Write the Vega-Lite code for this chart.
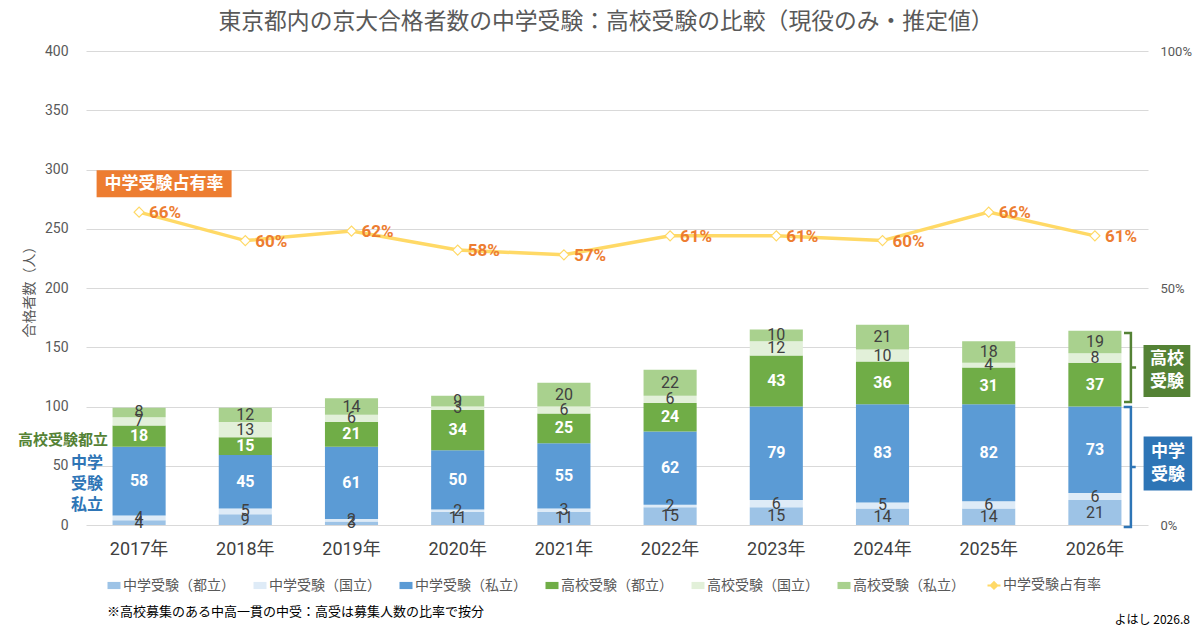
{
  "$schema": "https://vega.github.io/schema/vega-lite/v6.json",
  "width": 1062,
  "height": 474,
  "autosize": {"type": "none"},
  "padding": {"left": 86, "top": 51, "right": 52, "bottom": 106},
  "background": "#ffffff",
  "config": {
    "font": "Roboto, Noto Sans CJK JP",
    "view": {"stroke": null},
    "axis": {"labelFont": "Roboto, Noto Sans CJK JP", "titleFont": "Noto Sans CJK JP"}
  },
  "title": {
    "text": "東京都内の京大合格者数の中学受験：高校受験の比較（現役のみ・推定値）",
    "font": "Noto Sans CJK JP",
    "fontSize": 22.8,
    "fontWeight": "normal",
    "color": "#595959",
    "anchor": "middle",
    "dx": -11,
    "offset": 10
  },
  "datasets": {
    "bars": [
      {"year": "2017年", "series": "中学受験（都立）", "value": 4, "rank": 1},
      {"year": "2017年", "series": "中学受験（国立）", "value": 4, "rank": 2},
      {"year": "2017年", "series": "中学受験（私立）", "value": 58, "rank": 3},
      {"year": "2017年", "series": "高校受験（都立）", "value": 18, "rank": 4},
      {"year": "2017年", "series": "高校受験（国立）", "value": 7, "rank": 5},
      {"year": "2017年", "series": "高校受験（私立）", "value": 8, "rank": 6},
      {"year": "2018年", "series": "中学受験（都立）", "value": 9, "rank": 1},
      {"year": "2018年", "series": "中学受験（国立）", "value": 5, "rank": 2},
      {"year": "2018年", "series": "中学受験（私立）", "value": 45, "rank": 3},
      {"year": "2018年", "series": "高校受験（都立）", "value": 15, "rank": 4},
      {"year": "2018年", "series": "高校受験（国立）", "value": 13, "rank": 5},
      {"year": "2018年", "series": "高校受験（私立）", "value": 12, "rank": 6},
      {"year": "2019年", "series": "中学受験（都立）", "value": 3, "rank": 1},
      {"year": "2019年", "series": "中学受験（国立）", "value": 2, "rank": 2},
      {"year": "2019年", "series": "中学受験（私立）", "value": 61, "rank": 3},
      {"year": "2019年", "series": "高校受験（都立）", "value": 21, "rank": 4},
      {"year": "2019年", "series": "高校受験（国立）", "value": 6, "rank": 5},
      {"year": "2019年", "series": "高校受験（私立）", "value": 14, "rank": 6},
      {"year": "2020年", "series": "中学受験（都立）", "value": 11, "rank": 1},
      {"year": "2020年", "series": "中学受験（国立）", "value": 2, "rank": 2},
      {"year": "2020年", "series": "中学受験（私立）", "value": 50, "rank": 3},
      {"year": "2020年", "series": "高校受験（都立）", "value": 34, "rank": 4},
      {"year": "2020年", "series": "高校受験（国立）", "value": 3, "rank": 5},
      {"year": "2020年", "series": "高校受験（私立）", "value": 9, "rank": 6},
      {"year": "2021年", "series": "中学受験（都立）", "value": 11, "rank": 1},
      {"year": "2021年", "series": "中学受験（国立）", "value": 3, "rank": 2},
      {"year": "2021年", "series": "中学受験（私立）", "value": 55, "rank": 3},
      {"year": "2021年", "series": "高校受験（都立）", "value": 25, "rank": 4},
      {"year": "2021年", "series": "高校受験（国立）", "value": 6, "rank": 5},
      {"year": "2021年", "series": "高校受験（私立）", "value": 20, "rank": 6},
      {"year": "2022年", "series": "中学受験（都立）", "value": 15, "rank": 1},
      {"year": "2022年", "series": "中学受験（国立）", "value": 2, "rank": 2},
      {"year": "2022年", "series": "中学受験（私立）", "value": 62, "rank": 3},
      {"year": "2022年", "series": "高校受験（都立）", "value": 24, "rank": 4},
      {"year": "2022年", "series": "高校受験（国立）", "value": 6, "rank": 5},
      {"year": "2022年", "series": "高校受験（私立）", "value": 22, "rank": 6},
      {"year": "2023年", "series": "中学受験（都立）", "value": 15, "rank": 1},
      {"year": "2023年", "series": "中学受験（国立）", "value": 6, "rank": 2},
      {"year": "2023年", "series": "中学受験（私立）", "value": 79, "rank": 3},
      {"year": "2023年", "series": "高校受験（都立）", "value": 43, "rank": 4},
      {"year": "2023年", "series": "高校受験（国立）", "value": 12, "rank": 5},
      {"year": "2023年", "series": "高校受験（私立）", "value": 10, "rank": 6},
      {"year": "2024年", "series": "中学受験（都立）", "value": 14, "rank": 1},
      {"year": "2024年", "series": "中学受験（国立）", "value": 5, "rank": 2},
      {"year": "2024年", "series": "中学受験（私立）", "value": 83, "rank": 3},
      {"year": "2024年", "series": "高校受験（都立）", "value": 36, "rank": 4},
      {"year": "2024年", "series": "高校受験（国立）", "value": 10, "rank": 5},
      {"year": "2024年", "series": "高校受験（私立）", "value": 21, "rank": 6},
      {"year": "2025年", "series": "中学受験（都立）", "value": 14, "rank": 1},
      {"year": "2025年", "series": "中学受験（国立）", "value": 6, "rank": 2},
      {"year": "2025年", "series": "中学受験（私立）", "value": 82, "rank": 3},
      {"year": "2025年", "series": "高校受験（都立）", "value": 31, "rank": 4},
      {"year": "2025年", "series": "高校受験（国立）", "value": 4, "rank": 5},
      {"year": "2025年", "series": "高校受験（私立）", "value": 18, "rank": 6},
      {"year": "2026年", "series": "中学受験（都立）", "value": 21, "rank": 1},
      {"year": "2026年", "series": "中学受験（国立）", "value": 6, "rank": 2},
      {"year": "2026年", "series": "中学受験（私立）", "value": 73, "rank": 3},
      {"year": "2026年", "series": "高校受験（都立）", "value": 37, "rank": 4},
      {"year": "2026年", "series": "高校受験（国立）", "value": 8, "rank": 5},
      {"year": "2026年", "series": "高校受験（私立）", "value": 19, "rank": 6}
    ],
    "rate": [
      {"year": "2017年", "rate": 0.66},
      {"year": "2018年", "rate": 0.60},
      {"year": "2019年", "rate": 0.62},
      {"year": "2020年", "rate": 0.58},
      {"year": "2021年", "rate": 0.57},
      {"year": "2022年", "rate": 0.61},
      {"year": "2023年", "rate": 0.61},
      {"year": "2024年", "rate": 0.60},
      {"year": "2025年", "rate": 0.66},
      {"year": "2026年", "rate": 0.61}
    ]
  },
  "resolve": {"scale": {"y": "independent"}},
  "layer": [
    {
      "data": {"name": "bars"},
      "transform": [
        {"stack": "value", "groupby": ["year"], "sort": [{"field": "rank", "order": "ascending"}], "as": ["y0", "y1"]},
        {"calculate": "(datum.y0 + datum.y1) / 2", "as": "ymid"}
      ],
      "encoding": {
        "x": {
          "field": "year",
          "type": "nominal",
          "scale": {"paddingInner": 0.5, "paddingOuter": 0.25},
          "axis": {
            "title": null,
            "labelAngle": 0,
            "labelFontSize": 18,
            "labelColor": "#404040",
            "labelPadding": 15,
            "ticks": false,
            "domain": false
          }
        }
      },
      "layer": [
        {
          "mark": {"type": "bar"},
          "encoding": {
            "y": {
              "field": "y1",
              "type": "quantitative",
              "scale": {"domain": [0, 400]},
              "axis": {
                "values": [0, 50, 100, 150, 200, 250, 300, 350, 400],
                "grid": true,
                "gridColor": "#D9D9D9",
                "domain": false,
                "ticks": false,
                "labelPadding": 18,
                "labelFontSize": 14,
                "labelColor": "#595959",
                "title": "合格者数（人）",
                "titleFontSize": 14,
                "titleColor": "#595959",
                "titleFontWeight": "normal",
                "titlePadding": 8
              }
            },
            "y2": {"field": "y0"},
            "color": {
              "field": "series",
              "type": "nominal",
              "scale": {
                "domain": ["中学受験（都立）", "中学受験（国立）", "中学受験（私立）", "高校受験（都立）", "高校受験（国立）", "高校受験（私立）", "中学受験占有率"],
                "range": ["#9DC3E6", "#DEEBF7", "#5B9BD5", "#70AD47", "#E2F0D9", "#A9D18E", "#FFD966"]
              },
              "legend": {
                "title": null,
                "orient": "none",
                "legendX": 21,
                "legendY": 527,
                "direction": "horizontal",
                "labelFontSize": 14,
                "labelColor": "#595959",
                "labelFont": "Noto Sans CJK JP",
                "labelLimit": 220,
                "labelOffset": 2,
                "columnPadding": 18,
                "symbolSize": 169,
                "symbolType": "M-1,-0.55H1V0.55H-1Z",
                "symbolStrokeWidth": 0,
                "encode": {
                  "symbols": {
                    "update": {
                      "shape": {"signal": "datum.value === '中学受験占有率' ? 'M-1,0H-0.5M0.5,0H1M-0.5,0L0,-0.5L0.5,0L0,0.5Z' : 'M-1,-0.55H1V0.55H-1Z'"},
                      "fill": {"signal": "datum.value === '中学受験占有率' ? '#ffffff' : scale('color', datum.value)"},
                      "stroke": {"signal": "datum.value === '中学受験占有率' ? '#FFD966' : scale('color', datum.value)"},
                      "strokeWidth": {"signal": "datum.value === '中学受験占有率' ? 2 : 0"},
                      "opacity": {"value": 1}
                    }
                  }
                }
              }
            }
          }
        },
        {
          "transform": [{"filter": "datum.rank === 3 || datum.rank === 4"}],
          "mark": {"type": "text", "color": "#ffffff", "fontSize": 16, "fontWeight": "bold", "baseline": "middle"},
          "encoding": {
            "y": {"field": "ymid", "type": "quantitative"},
            "text": {"field": "value", "type": "quantitative"}
          }
        },
        {
          "transform": [{"filter": "datum.rank !== 3 && datum.rank !== 4"}],
          "mark": {"type": "text", "color": "#404040", "fontSize": 16, "baseline": "middle"},
          "encoding": {
            "y": {"field": "ymid", "type": "quantitative"},
            "text": {"field": "value", "type": "quantitative"}
          }
        }
      ]
    },
    {
      "data": {"name": "rate"},
      "encoding": {
        "x": {"field": "year", "type": "nominal"},
        "y": {
          "field": "rate",
          "type": "quantitative",
          "scale": {"domain": [0, 1]},
          "axis": {
            "orient": "right",
            "values": [0, 0.5, 1],
            "format": ".0%",
            "grid": false,
            "domain": false,
            "ticks": false,
            "labelFontSize": 13,
            "labelColor": "#595959",
            "labelPadding": 12,
            "title": null
          }
        }
      },
      "layer": [
        {
          "mark": {"type": "line", "strokeWidth": 3.5},
          "encoding": {"color": {"datum": "中学受験占有率", "type": "nominal"}}
        },
        {
          "mark": {"type": "point", "shape": "diamond", "filled": true, "fill": "#ffffff", "stroke": "#FFD966", "strokeWidth": 1.2, "size": 100, "opacity": 1}
        },
        {
          "mark": {"type": "text", "align": "left", "baseline": "middle", "dx": 10, "dy": 1, "fontSize": 17, "fontWeight": "bold", "color": "#ED7D31"},
          "encoding": {"text": {"field": "rate", "type": "quantitative", "format": ".0%"}}
        }
      ]
    },
    {
      "data": {"values": [{"label": "中学受験占有率"}]},
      "encoding": {
        "x": {"datum": "2017年", "type": "nominal"},
        "y": {"datum": 288, "type": "quantitative", "scale": {"domain": [0, 400]}, "axis": null}
      },
      "layer": [
        {"mark": {"type": "point", "shape": "M-1,-0.2H1V0.2H-1Z", "size": 18225, "filled": true, "fill": "#ED7D31", "strokeWidth": 0, "opacity": 1, "xOffset": 25}},
        {"mark": {"type": "text", "color": "#ffffff", "fontSize": 17, "fontWeight": "bold", "font": "Noto Sans CJK JP", "baseline": "middle", "xOffset": 25}, "encoding": {"text": {"field": "label"}}}
      ]
    },
    {
      "data": {"values": [{"label": "高校受験都立"}]},
      "encoding": {
        "x": {"datum": "2017年", "type": "nominal"},
        "y": {"datum": 72, "type": "quantitative", "scale": {"domain": [0, 400]}, "axis": null}
      },
      "layer": [
        {"mark": {"type": "text", "color": "#548235", "fontSize": 15, "fontWeight": "bold", "font": "Noto Sans CJK JP", "align": "right", "baseline": "middle", "xOffset": -31}, "encoding": {"text": {"field": "label"}}}
      ]
    },
    {
      "data": {"values": [{"label": ["中学", "受験", "私立"]}]},
      "encoding": {
        "x": {"datum": "2017年", "type": "nominal"},
        "y": {"datum": 34.6, "type": "quantitative", "scale": {"domain": [0, 400]}, "axis": null}
      },
      "layer": [
        {"mark": {"type": "text", "color": "#2E75B6", "fontSize": 16, "fontWeight": "bold", "font": "Noto Sans CJK JP", "align": "right", "baseline": "middle", "lineHeight": 21, "xOffset": -36, "yOffset": -21}, "encoding": {"text": {"field": "label"}}}
      ]
    },
    {
      "data": {"values": [{"label": ["高校", "受験"]}]},
      "encoding": {
        "x": {"datum": "2026年", "type": "nominal"},
        "y": {"datum": 130, "type": "quantitative", "scale": {"domain": [0, 400]}, "axis": null}
      },
      "layer": [
        {"mark": {"type": "point", "shape": "M-0.9,-1H0.9V1H-0.9Z", "size": 2704, "filled": true, "fill": "#548235", "strokeWidth": 0, "opacity": 1, "xOffset": 72}},
        {"mark": {"type": "text", "color": "#ffffff", "fontSize": 17, "fontWeight": "bold", "font": "Noto Sans CJK JP", "baseline": "middle", "lineHeight": 23, "xOffset": 72, "yOffset": -11.5}, "encoding": {"text": {"field": "label"}}}
      ]
    },
    {
      "data": {"values": [{"label": ["中学", "受験"]}]},
      "encoding": {
        "x": {"datum": "2026年", "type": "nominal"},
        "y": {"datum": 52, "type": "quantitative", "scale": {"domain": [0, 400]}, "axis": null}
      },
      "layer": [
        {"mark": {"type": "point", "shape": "M-0.9,-1H0.9V1H-0.9Z", "size": 2916, "filled": true, "fill": "#2E75B6", "strokeWidth": 0, "opacity": 1, "xOffset": 73}},
        {"mark": {"type": "text", "color": "#ffffff", "fontSize": 17, "fontWeight": "bold", "font": "Noto Sans CJK JP", "baseline": "middle", "lineHeight": 23, "xOffset": 73, "yOffset": -11.5}, "encoding": {"text": {"field": "label"}}}
      ]
    },
    {
      "data": {"values": [{"label": "高校受験"}]},
      "encoding": {
        "x": {"datum": "2026年", "type": "nominal"},
        "y": {"datum": 133, "type": "quantitative", "scale": {"domain": [0, 400]}, "axis": null}
      },
      "layer": [
        {"mark": {"type": "point", "shape": "M-0.2,-1H0V1H-0.2M0,0H0.15", "size": 4761, "filled": false, "stroke": "#548235", "strokeWidth": 2.5, "opacity": 1, "xOffset": 36}}
      ]
    },
    {
      "data": {"values": [{"label": "中学受験"}]},
      "encoding": {
        "x": {"datum": "2026年", "type": "nominal"},
        "y": {"datum": 49, "type": "quantitative", "scale": {"domain": [0, 400]}, "axis": null}
      },
      "layer": [
        {"mark": {"type": "point", "shape": "M-0.12,-1H0V1H-0.12M0,0H0.08", "size": 14400, "filled": false, "stroke": "#2E75B6", "strokeWidth": 2.5, "opacity": 1, "xOffset": 36}}
      ]
    },
    {
      "data": {"values": [{"label": "※高校募集のある中高一貫の中受：高受は募集人数の比率で按分"}]},
      "encoding": {
        "x": {"datum": "2017年", "type": "nominal"},
        "y": {"datum": -73, "type": "quantitative", "scale": {"domain": [0, 400]}, "axis": null}
      },
      "layer": [
        {"mark": {"type": "text", "color": "#000000", "fontSize": 13, "font": "Noto Sans CJK JP", "align": "left", "baseline": "middle", "xOffset": -32}, "encoding": {"text": {"field": "label"}}}
      ]
    },
    {
      "data": {"values": [{"label": "よはし 2026.8"}]},
      "encoding": {
        "x": {"datum": "2026年", "type": "nominal"},
        "y": {"datum": -80, "type": "quantitative", "scale": {"domain": [0, 400]}, "axis": null}
      },
      "layer": [
        {"mark": {"type": "text", "color": "#000000", "fontSize": 12, "font": "Noto Sans CJK JP", "align": "right", "baseline": "middle", "xOffset": 95}, "encoding": {"text": {"field": "label"}}}
      ]
    }
  ]
}
